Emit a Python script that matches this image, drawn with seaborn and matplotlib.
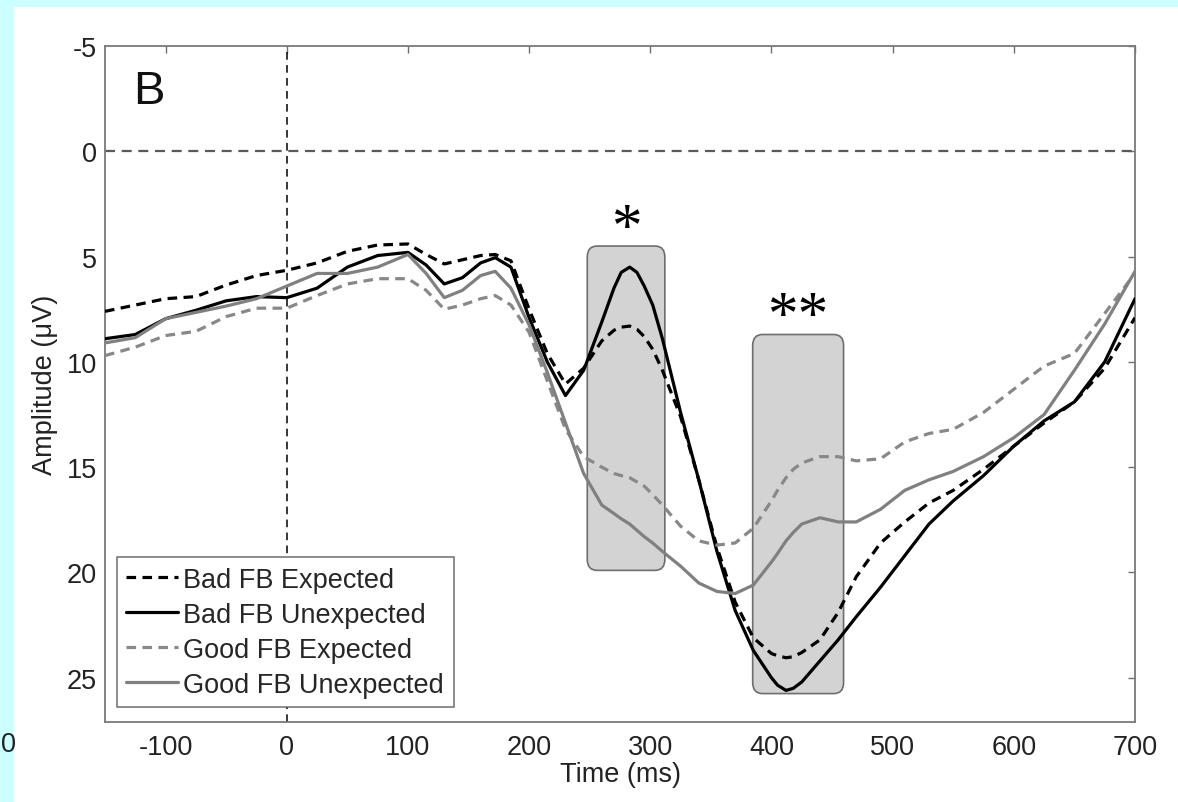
"""ERP waveforms for expected / unexpected feedback (panel B)."""

import matplotlib

matplotlib.use("Agg")
import matplotlib.pyplot as plt
import numpy as np
import pandas as pd
import seaborn as sns
from matplotlib.lines import Line2D
from matplotlib.patches import FancyBboxPatch, Rectangle

# --- values ------------------------------------------------------------------
TIME_MS = [-150, -125, -100, -75, -50, -25, 0, 25, 50, 75, 100, 115, 130, 145,
           160, 172, 185, 200, 215, 230, 245, 260, 270, 276, 283, 289, 295,
           302, 310, 325, 340, 355, 370, 385, 400, 405, 412, 418, 425, 440,
           455, 470, 490, 510, 530, 550, 575, 600, 625, 650, 675, 700]

BAD_EXPECTED = [7.6, 7.3, 7.0, 6.9, 6.35, 5.9, 5.65, 5.3, 4.75, 4.45, 4.4, 4.9,
                5.35, 5.15, 4.95, 4.9, 5.2, 7.5, 9.6, 11.05, 10.3, 9.0, 8.5,
                8.35, 8.3, 8.45, 8.8, 9.4, 10.4, 12.6, 15.6, 18.8, 21.4, 23.1,
                23.85, 23.95, 24.05, 24.0, 23.8, 23.2, 21.9, 20.2, 18.6, 17.6,
                16.7, 16.1, 15.1, 14.0, 12.9, 11.9, 10.3, 7.9]

BAD_UNEXPECTED = [8.9, 8.7, 7.95, 7.55, 7.1, 6.9, 6.95, 6.5, 5.5, 4.95, 4.8,
                  5.4, 6.3, 6.0, 5.3, 5.05, 5.5, 7.9, 10.0, 11.6, 10.4, 8.1,
                  6.5, 5.75, 5.5, 5.75, 6.4, 7.3, 8.9, 12.4, 15.6, 19.0, 21.8,
                  23.7, 25.0, 25.35, 25.6, 25.5, 25.2, 24.2, 23.2, 22.1, 20.7,
                  19.2, 17.7, 16.6, 15.4, 14.0, 12.8, 11.9, 10.0, 7.0]

GOOD_EXPECTED = [9.7, 9.3, 8.75, 8.55, 7.85, 7.45, 7.45, 6.85, 6.3, 6.05, 6.05,
                 6.6, 7.5, 7.3, 7.0, 6.85, 7.3, 8.6, 10.9, 13.2, 14.5, 15.0,
                 15.3, 15.4, 15.5, 15.7, 15.9, 16.3, 16.8, 17.8, 18.5, 18.7,
                 18.6, 17.9, 16.6, 16.1, 15.5, 15.1, 14.8, 14.5, 14.5, 14.7,
                 14.6, 13.8, 13.4, 13.2, 12.4, 11.3, 10.2, 9.6, 7.7, 5.8]

GOOD_UNEXPECTED = [9.1, 8.85, 7.95, 7.65, 7.35, 7.0, 6.4, 5.8, 5.8, 5.5, 4.9,
                   5.8, 6.95, 6.6, 5.9, 5.7, 6.5, 8.25, 10.5, 12.9, 15.3, 16.8,
                   17.2, 17.45, 17.7, 18.0, 18.3, 18.6, 19.0, 19.7, 20.5, 20.9,
                   21.0, 20.6, 19.5, 19.1, 18.5, 18.1, 17.7, 17.4, 17.6, 17.6,
                   17.0, 16.1, 15.6, 15.2, 14.5, 13.6, 12.5, 10.4, 8.2, 5.7]

CONDITIONS = ["Bad FB Expected", "Bad FB Unexpected",
              "Good FB Expected", "Good FB Unexpected"]

# significance windows: start / end (ms), top / bottom (µV), marker
WINDOW_START = [248, 384.5]
WINDOW_END = [312, 459.5]
WINDOW_TOP = [4.5, 8.7]
WINDOW_BOTTOM = [19.9, 25.75]
WINDOW_STARS = ["*", "**"]

X_TICKS = [-100, 0, 100, 200, 300, 400, 500, 600, 700]
Y_TICKS = [-5, 0, 5, 10, 15, 20, 25]

# --- styling ------------------------------------------------------------------
PALETTE = {
    "Bad FB Expected": "#000000",
    "Bad FB Unexpected": "#000000",
    "Good FB Expected": "#888888",
    "Good FB Unexpected": "#808080",
}
DASHES = {
    "Bad FB Expected": (3, 2),
    "Bad FB Unexpected": "",
    "Good FB Expected": (3, 2),
    "Good FB Unexpected": "",
}

sns.set_style("white")
plt.rcParams["font.family"] = ["Liberation Sans", "DejaVu Sans"]
plt.rcParams["axes.unicode_minus"] = False
FS = 19.5
TEXT_COLOR = "#222222"

W, H = 1178, 803
fig = plt.figure(figsize=(W / 100, H / 100), dpi=100, facecolor="#ccffff")
fig.add_artist(Rectangle((14 / W, 0), 1, (H - 8) / H, transform=fig.transFigure,
                         facecolor="white", edgecolor="none", zorder=-10))

ax = fig.add_axes([105 / W, (H - 723) / H, 1030 / W, 676 / H])
ax.set_facecolor("white")

df = pd.concat(
    [
        pd.DataFrame({"time": TIME_MS, "amplitude": vals, "condition": name})
        for name, vals in zip(
            CONDITIONS,
            [BAD_EXPECTED, BAD_UNEXPECTED, GOOD_EXPECTED, GOOD_UNEXPECTED],
        )
    ],
    ignore_index=True,
)

sns.lineplot(
    data=df, x="time", y="amplitude", hue="condition", style="condition",
    hue_order=CONDITIONS, style_order=CONDITIONS, palette=PALETTE,
    dashes=DASHES, estimator=None, sort=False, linewidth=2.3,
    legend=False, ax=ax, zorder=3,
)

# shaded significance windows
for x0, x1, y0, y1, stars in zip(WINDOW_START, WINDOW_END, WINDOW_TOP,
                                 WINDOW_BOTTOM, WINDOW_STARS):
    box = FancyBboxPatch(
        (x0, y0), x1 - x0, y1 - y0,
        boxstyle="round,pad=0,rounding_size=8", mutation_aspect=0.065,
        facecolor="#d3d3d3", edgecolor="#6e6e6e", linewidth=1.2, zorder=1,
    )
    ax.add_patch(box)
    ax.text((x0 + x1) / 2, y0 - 0.8, stars, ha="center", va="center",
            fontsize=44, family="Liberation Serif", color="black", zorder=4)

# reference lines
ax.axhline(0, color="#5a5a5a", lw=1.6, ls=(0, (4.5, 3)), zorder=2)
ax.axvline(0, color="black", lw=1.1, ls=(0, (5, 3.5)), zorder=2)

ax.set_xlim(-150, 700)
ax.set_ylim(27.1, -5)
ax.set_xticks(X_TICKS)
ax.set_yticks(Y_TICKS)
ax.tick_params(axis="both", direction="in", length=5, width=1, color="#6e6e6e",
               top=True, right=True, labelsize=FS, labelcolor=TEXT_COLOR)
ax.tick_params(axis="x", pad=9)
ax.tick_params(axis="y", pad=6)
for sp in ax.spines.values():
    sp.set_color("#7a7a7a")
    sp.set_linewidth(1.3)

ax.set_xlabel("Time (ms)", fontsize=FS, color=TEXT_COLOR)
ax.set_ylabel("Amplitude (\u03bcV)", fontsize=FS, color=TEXT_COLOR)
ax.xaxis.set_label_coords(0.5, -0.058)
ax.yaxis.set_label_coords(-0.046, 0.5)

ax.text(0.027, 0.933, "B", transform=ax.transAxes, fontsize=34,
        ha="left", va="center", color="#111111")

handles = [
    Line2D([], [], color=PALETTE[c], lw=2.3,
           ls=(0, DASHES[c]) if DASHES[c] else "-")
    for c in CONDITIONS
]
leg = ax.legend(
    handles, CONDITIONS, loc="lower left",
    bbox_to_anchor=(12 / 1030, 15 / 676), borderaxespad=0, fontsize=FS,
    handlelength=1.9, handletextpad=0.2, labelspacing=0.33, borderpad=0.35,
    fancybox=False, framealpha=1, edgecolor="#6e6e6e",
)
leg.get_frame().set_linewidth(1.1)
leg.set_zorder(5)

# tick label of the neighbouring panel, at the left edge
fig.text(1 / W, 1 - 745 / H, "0", fontsize=FS, ha="left", va="center",
         color=TEXT_COLOR)

fig.savefig("out.png", dpi=100, facecolor=fig.get_facecolor())
